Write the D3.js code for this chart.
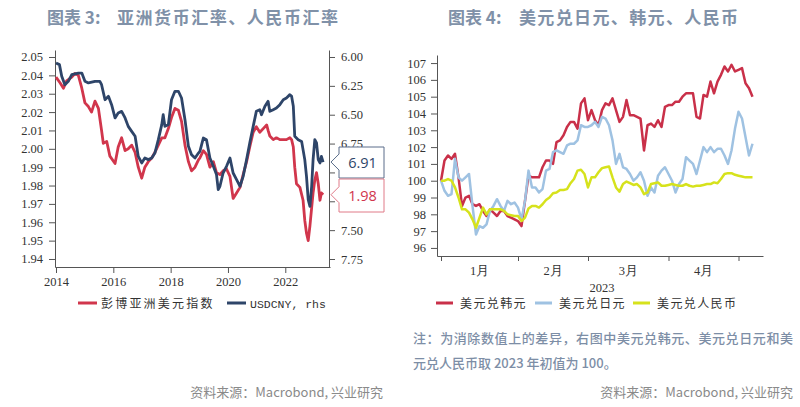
<!DOCTYPE html>
<html><head><meta charset="utf-8">
<script src="https://cdn.jsdelivr.net/npm/d3@7"></script>
<style>body{margin:0;background:#fff}</style></head>
<body>
<svg id="c" width="800" height="407"></svg>
<script>
// ---------- Left chart data ----------
const asiaYears = [2014.00,2014.14,2014.26,2014.37,2014.55,2014.66,2014.78,2014.90,2015.01,2015.13,2015.24,2015.36,2015.48,2015.59,2015.65,2015.77,2015.88,2016.06,2016.17,2016.29,2016.41,2016.52,2016.64,2016.76,2016.87,2016.99,2017.10,2017.22,2017.34,2017.45,2017.57,2017.69,2017.80,2017.92,2018.03,2018.15,2018.27,2018.38,2018.50,2018.62,2018.73,2018.85,2018.97,
2019.02,2019.14,2019.25,2019.37,2019.49,2019.60,2019.72,2019.83,2019.95,2020.07,2020.18,2020.30,2020.42,2020.53,2020.65,2020.76,2020.88,2020.99,2021.11,2021.23,2021.35,2021.40,2021.46,2021.58,2021.69,2021.81,2021.93,2022.04,2022.16,2022.22,2022.28,2022.33,2022.39,2022.51,2022.62,2022.68,2022.74,2022.80,2022.86,2022.92,2022.97,2023.03,2023.09,2023.15,2023.21,2023.26,2023.32];
const asiaIdx = [2.039,2.036,2.033,2.037,2.039,2.041,2.040,2.033,2.025,2.023,2.020,2.026,2.022,2.010,2.003,2.004,1.996,1.992,2.001,2.006,1.999,2.000,2.002,1.998,1.990,1.984,1.990,1.993,1.995,1.998,2.002,2.006,2.006,2.011,2.017,2.022,2.021,2.015,2.002,1.993,1.988,1.990,1.994,
1.995,1.999,1.997,1.990,1.993,1.987,1.986,1.988,1.989,1.985,1.973,1.976,1.979,1.986,1.993,2.001,2.009,2.012,2.009,2.011,2.013,2.010,2.007,2.005,2.006,2.005,2.005,2.005,2.006,2.005,2.001,1.990,1.981,1.979,1.972,1.961,1.954,1.950,1.958,1.968,1.976,1.983,1.987,1.981,1.972,1.976,1.975];
const cnyYears = [2014.00,2014.12,2014.20,2014.31,2014.43,2014.55,2014.78,2014.90,2015.01,2015.13,2015.36,2015.53,2015.59,2015.71,2015.83,2015.94,2016.06,2016.17,2016.29,2016.41,2016.52,2016.64,2016.76,2016.87,2016.99,2017.10,2017.22,2017.34,2017.45,2017.57,2017.69,2017.74,2017.80,2017.92,2018.03,2018.15,2018.27,2018.38,2018.50,2018.62,2018.73,2018.85,2018.97,
2019.02,2019.14,2019.25,2019.37,2019.49,2019.60,2019.66,2019.72,2019.83,2019.95,2020.07,2020.18,2020.30,2020.42,2020.53,2020.65,2020.76,2020.88,2020.99,2021.11,2021.17,2021.29,2021.40,2021.46,2021.58,2021.69,2021.81,2021.93,2022.04,2022.16,2022.22,2022.28,2022.33,2022.45,2022.57,2022.68,2022.74,2022.80,2022.86,2022.92,2022.97,2023.03,2023.09,2023.15,2023.21,2023.26,2023.32];
const usdcny = [6.052,6.066,6.167,6.240,6.211,6.153,6.139,6.139,6.211,6.225,6.211,6.211,6.240,6.370,6.341,6.413,6.528,6.485,6.471,6.528,6.601,6.644,6.687,6.861,6.918,6.875,6.889,6.875,6.832,6.716,6.586,6.500,6.601,6.586,6.370,6.297,6.297,6.355,6.543,6.774,6.846,6.875,6.832,
6.817,6.702,6.716,6.875,6.947,7.019,7.149,7.120,7.005,6.947,6.875,7.005,7.063,7.120,7.034,6.889,6.745,6.601,6.471,6.456,6.500,6.427,6.384,6.471,6.456,6.442,6.413,6.370,6.355,6.326,6.341,6.427,6.687,6.716,6.731,6.889,7.034,7.236,7.294,7.120,6.889,6.716,6.745,6.889,6.918,6.861,6.910];
const leftYTicks = [1.94,1.95,1.96,1.97,1.98,1.99,2.00,2.01,2.02,2.03,2.04,2.05];
const rightYTicks = [6.00,6.25,6.50,6.75,7.00,7.25,7.50,7.75];
const yearTicks = [2014,2016,2018,2020,2022];
const leftSeriesNames = ["彭博亚洲美元指数","USDCNY, rhs"];

// ---------- Right chart data (business-day index from 2023-01-02) ----------
const krw = [100.0,101.2,101.5,101.3,101.6,100.2,98.5,99.0,99.1,98.6,98.5,98.6,98.2,97.9,98.3,98.1,97.9,98.2,98.2,97.9,97.8,97.7,97.6,97.3,98.8,100.3,100.2,100.2,100.2,100.8,101.2,101.2,101.0,102.3,102.4,102.7,103.2,103.5,103.5,103.1,104.6,104.9,103.6,104.2,103.6,103.3,104.2,104.6,104.5,104.9,104.2,103.5,103.8,104.8,103.9,103.9,103.8,103.7,101.8,103.3,103.4,103.2,103.6,103.2,104.4,104.5,104.5,104.7,104.7,105.0,105.2,105.2,105.2,103.8,103.7,105.1,105.0,105.9,105.2,105.9,106.3,106.8,106.5,106.9,106.5,106.6,106.7,105.8,105.5,105.0];
const jpy = [100.0,99.4,99.1,99.2,101.3,100.2,100.0,100.2,100.4,98.5,96.8,97.3,97.2,97.4,98.2,98.5,98.9,98.5,98.2,98.8,98.6,98.7,98.4,97.7,98.8,100.6,99.6,99.6,99.3,99.5,100.6,100.7,101.7,101.8,101.7,101.6,102.1,102.2,102.2,102.4,103.3,103.2,103.2,103.3,103.5,103.2,103.8,103.7,103.3,102.4,101.0,101.6,100.8,100.7,100.4,100.0,100.2,100.5,100.0,99.1,99.6,99.3,100.3,100.6,100.8,100.4,100.0,99.3,99.8,100.1,101.4,101.2,101.0,100.4,101.2,102.0,101.7,102.0,101.7,101.9,101.9,101.5,101.0,101.8,103.1,104.1,103.7,102.6,101.5,102.2];
const cny = [100.0,100.0,100.1,100.0,99.6,99.0,98.3,98.3,98.1,97.7,97.2,97.8,98.4,98.0,98.3,98.3,98.3,98.3,98.2,98.0,97.95,97.9,97.9,97.6,97.8,98.35,98.5,98.5,98.4,98.6,98.85,99.0,99.25,99.3,99.45,99.45,99.5,99.85,100.1,100.6,100.65,100.4,99.6,100.2,100.2,100.5,100.75,100.8,100.85,100.2,99.6,99.35,99.8,99.95,99.85,99.75,99.8,99.6,99.2,99.3,99.8,99.85,99.9,99.7,99.7,99.75,99.8,99.75,99.7,99.7,99.8,99.7,99.65,99.7,99.7,99.75,99.8,99.8,99.9,99.85,100.1,100.4,100.45,100.45,100.35,100.3,100.25,100.2,100.2,100.2];
const rightSeriesNames = ["美元兑韩元","美元兑日元","美元兑人民币"];
const monthTickIdx = [0,22,42,65,85];
const monthLabels = ["1月","2月","3月","4月"];
const rightYTicks2 = [96,97,98,99,100,101,102,103,104,105,106,107];

// ---------- Drawing ----------
const svg = d3.select("#c");
const tickFont = "'Liberation Serif', serif";
const cjk = "'Noto Sans CJK SC', sans-serif";
const axisCol = "#555";

// titles
function title(x, head, body, bodyX, bodyLen) {
  svg.append("text").attr("x", x).attr("y", 24).attr("font-family", cjk).attr("font-weight", "bold")
    .attr("font-size", 17).attr("fill", "#8091a8").text(head);
  svg.append("text").attr("x", bodyX).attr("y", 24).attr("font-family", cjk).attr("font-weight", "bold")
    .attr("font-size", 17).attr("fill", "#8091a8").attr("textLength", bodyLen).attr("lengthAdjust", "spacing").text(body);
}
title(47, "图表 3:", "亚洲货币汇率、人民币汇率", 117, 221);
title(448, "图表 4:", "美元兑日元、韩元、人民币", 519, 219);

// ----- left chart -----
const xL = d3.scaleLinear().domain([2013.965, 2023.56]).range([55, 330]);
const yL = d3.scaleLinear().domain([1.93564, 2.05381]).range([267, 50]);
const yR = d3.scaleLinear().domain([5.9394, 7.8193]).range([50, 267]);
const red1 = "#d1364c", blue1 = "#2e4569";

function styleAxis(g) {
  g.selectAll("path, line").attr("stroke", axisCol).attr("stroke-width", 1);
  g.selectAll("text").attr("font-family", tickFont).attr("font-size", 12.5).attr("fill", "#333");
}
svg.append("g").attr("transform", "translate(55,0)")
  .call(d3.axisLeft(yL).tickValues(leftYTicks).tickFormat(d3.format(".2f")).tickSize(6).tickSizeOuter(0).tickPadding(6))
  .call(styleAxis);
const gR = svg.append("g").attr("transform", "translate(329,0)")
  .call(d3.axisRight(yR).tickValues(rightYTicks).tickFormat(d3.format(".2f")).tickSize(6).tickSizeOuter(0).tickPadding(6))
  .call(styleAxis);
svg.append("g").attr("transform", "translate(0,267)")
  .call(d3.axisBottom(xL).tickValues(yearTicks).tickFormat(d3.format("d")).tickSize(6).tickSizeOuter(0).tickPadding(4))
  .call(styleAxis);

const lineA = d3.line().x((d, i) => xL(asiaYears[i])).y(d => yL(d));
const lineB = d3.line().x((d, i) => xL(cnyYears[i])).y(d => yR(d));
svg.append("path").datum(asiaIdx).attr("d", lineA).attr("fill", "none").attr("stroke", red1).attr("stroke-width", 2.8).attr("stroke-linejoin", "round");
svg.append("path").datum(usdcny).attr("d", lineB).attr("fill", "none").attr("stroke", blue1).attr("stroke-width", 2.8).attr("stroke-linejoin", "round");

// value callouts (they cover the rhs tick labels behind them, as in the original)
const boxes = [];
function callout(yp, top, bottom, stroke, color, txt) {
  const x0 = 331, x1 = 339, x2 = 384;
  boxes.push([top, bottom]);
  const p = d3.path();
  p.moveTo(x0, yp); p.lineTo(x1, Math.max(top, yp - 8)); p.lineTo(x1, top); p.lineTo(x2, top);
  p.lineTo(x2, bottom); p.lineTo(x1, bottom); p.lineTo(x1, Math.min(bottom, yp + 8)); p.closePath();
  svg.append("path").attr("d", p.toString()).attr("fill", "#fff").attr("stroke", stroke).attr("stroke-width", 1);
  svg.append("text").attr("x", (x1 + x2) / 2 + 1).attr("y", (top + bottom) / 2 + 5).attr("text-anchor", "middle")
    .attr("font-family", "'Open Sans', sans-serif").attr("font-size", 14.5).attr("fill", color).text(txt);
}
const lastCny = usdcny[usdcny.length - 1], lastAsia = asiaIdx[asiaIdx.length - 1];
callout(yR(lastCny), 147, 178, "#5a6d8a", blue1, d3.format(".2f")(lastCny));
callout(yL(lastAsia), 179, 212, "#e07a88", red1, d3.format(".2f")(Math.round(lastAsia * 100 + 0.5) / 100));
// hide rhs tick labels fully covered by the callouts
gR.selectAll(".tick text").filter(d => boxes.some(([t, b]) => yR(d) > t + 2 && yR(d) < b - 2)).remove();

// left legend
const legL = [{c: red1, x: 78, t: leftSeriesNames[0], f: cjk, ls: 2.2, fs: 12},
              {c: blue1, x: 227, t: leftSeriesNames[1], f: "'Liberation Mono', monospace", ls: 0, fs: 11.5}];
legL.forEach(d => {
  svg.append("line").attr("x1", d.x).attr("x2", d.x + 19).attr("y1", 303).attr("y2", 303).attr("stroke", d.c).attr("stroke-width", 3);
  svg.append("text").attr("x", d.x + 23).attr("y", 307.5).attr("font-family", d.f).attr("font-size", d.fs)
    .attr("letter-spacing", d.ls).attr("fill", "#333").text(d.t);
});

// ----- right chart -----
const xD = d3.scaleLinear().domain([-1.143, 92]).range([437, 763]);
const yD = d3.scaleLinear().domain([95.52, 107.48]).range([256, 55]);
const redK = "#c93049", blueJ = "#9fc2e2", yelC = "#d6e21c";

svg.append("g").attr("transform", "translate(437,0)")
  .call(d3.axisLeft(yD).tickValues(rightYTicks2).tickFormat(d3.format("d")).tickSize(6).tickSizeOuter(0).tickPadding(5))
  .call(styleAxis);
svg.append("g").attr("transform", "translate(0,256)")
  .call(d3.axisBottom(xD).tickValues(monthTickIdx).tickFormat("").tickSize(5).tickSizeOuter(0))
  .call(styleAxis);
monthLabels.forEach((m, i) => {
  svg.append("text").attr("x", xD((monthTickIdx[i] + monthTickIdx[i + 1]) / 2)).attr("y", 275)
    .attr("text-anchor", "middle").attr("font-family", tickFont).attr("font-size", 12.5).attr("fill", "#333").text(m);
});
svg.append("text").attr("x", 602).attr("y", 292).attr("text-anchor", "middle").attr("font-family", tickFont)
  .attr("font-size", 12.5).attr("fill", "#333").text("2023");

const lineD = d3.line().x((d, i) => xD(i)).y(d => yD(d));
[[krw, redK], [jpy, blueJ], [cny, yelC]].forEach(([s, c]) => {
  svg.append("path").datum(s).attr("d", lineD).attr("fill", "none").attr("stroke", c).attr("stroke-width", 2.5).attr("stroke-linejoin", "round");
});

const legR = [{c: redK, x: 436}, {c: blueJ, x: 535}, {c: yelC, x: 633}];
legR.forEach((d, i) => {
  svg.append("line").attr("x1", d.x).attr("x2", d.x + 17).attr("y1", 303).attr("y2", 303).attr("stroke", d.c).attr("stroke-width", 3);
  svg.append("text").attr("x", d.x + 24).attr("y", 307.5).attr("font-family", cjk).attr("font-size", 12)
    .attr("letter-spacing", 1.4).attr("fill", "#333").text(rightSeriesNames[i]);
});

// notes & sources
svg.append("text").attr("x", 413).attr("y", 343).attr("font-family", cjk).attr("font-size", 13).attr("font-weight", 500)
  .attr("fill", "#7d8ea6").attr("textLength", 380).attr("lengthAdjust", "spacing")
  .text("注：为消除数值上的差异，右图中美元兑韩元、美元兑日元和美");
svg.append("text").attr("x", 413).attr("y", 368).attr("font-family", cjk).attr("font-size", 13).attr("font-weight", 500)
  .attr("fill", "#7d8ea6").text("元兑人民币取 2023 年初值为 100。");
svg.append("text").attr("x", 383).attr("y", 397).attr("text-anchor", "end").attr("font-family", cjk).attr("font-size", 13)
  .attr("fill", "#8a8a8a").text("资料来源：Macrobond, 兴业研究");
svg.append("text").attr("x", 793).attr("y", 397).attr("text-anchor", "end").attr("font-family", cjk).attr("font-size", 13)
  .attr("fill", "#8a8a8a").text("资料来源：Macrobond, 兴业研究");
</script>
</body></html>
